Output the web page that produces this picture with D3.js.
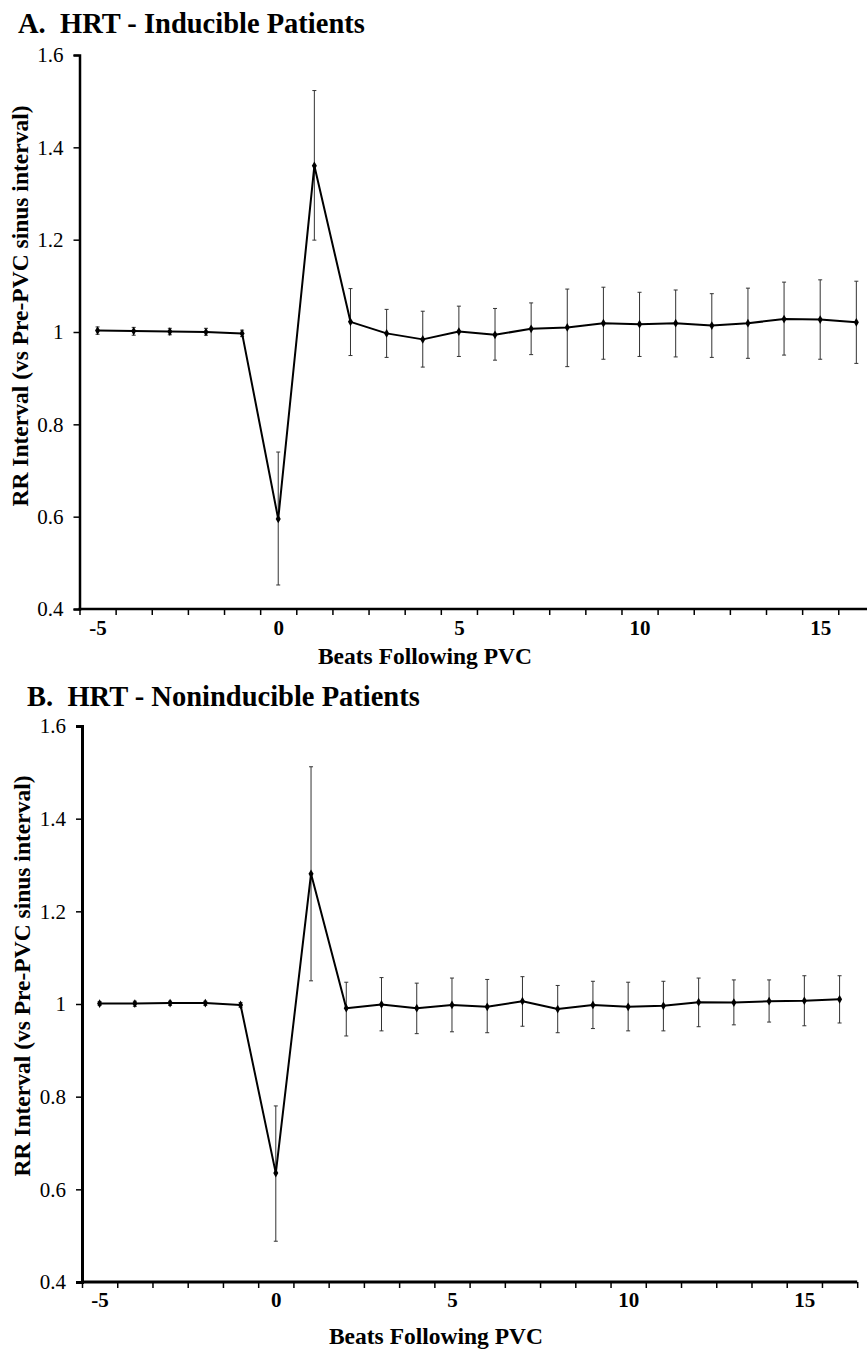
<!DOCTYPE html>
<html>
<head>
<meta charset="utf-8">
<script src="https://cdn.jsdelivr.net/npm/d3@7"></script>
<style>
  body { margin: 0; background: #fff; overflow: hidden; }
  svg { display: block; }
  svg text { font-family: "Liberation Serif", "Times New Roman", Times, serif !important; }
  .title { font-weight: bold; font-size: 28.5px; white-space: pre; }
  .axis-label { font-weight: bold; font-size: 23.5px; }
  .y-axis text { font-size: 21px !important; fill: #000; }
  .x-labels text { font-size: 21px !important; font-weight: bold; fill: #000; }
</style>
</head>
<body>
<div id="chart"></div>
<script>
// beats relative to the PVC
const beats = [-5, -4, -3, -2, -1, 0, 1, 2, 3, 4, 5, 6, 7, 8, 9, 10, 11, 12, 13, 14, 15, 16]
const yTicks = [0.4, 0.6, 0.8, 1.0, 1.2, 1.4, 1.6]
const xLabelTicks = [-5, 0, 5, 10, 15]

// A. inducible patients
const inducibleMean = [1.003, 1.002, 1.001, 1.000, 0.997, 0.595, 1.360, 1.022, 0.997, 0.984, 1.001, 0.994, 1.007, 1.010, 1.019, 1.017, 1.019, 1.014, 1.019, 1.028, 1.027, 1.021]
const inducibleUpper = [1.011, 1.010, 1.008, 1.008, 1.004, 0.740, 1.523, 1.094, 1.049, 1.045, 1.056, 1.051, 1.063, 1.093, 1.097, 1.086, 1.091, 1.083, 1.095, 1.108, 1.113, 1.110]
const inducibleLower = [0.995, 0.993, 0.994, 0.993, 0.990, 0.452, 1.199, 0.949, 0.945, 0.924, 0.947, 0.939, 0.951, 0.925, 0.941, 0.947, 0.946, 0.945, 0.943, 0.950, 0.941, 0.932]

// B. noninducible patients
const noninducibleMean = [1.001, 1.001, 1.002, 1.002, 0.998, 0.635, 1.281, 0.991, 0.999, 0.991, 0.998, 0.994, 1.006, 0.989, 0.998, 0.994, 0.996, 1.004, 1.003, 1.006, 1.007, 1.010]
const noninducibleUpper = [1.005, 1.006, 1.006, 1.006, 1.003, 0.780, 1.512, 1.047, 1.057, 1.045, 1.056, 1.053, 1.059, 1.040, 1.049, 1.047, 1.049, 1.056, 1.052, 1.052, 1.061, 1.061]
const noninducibleLower = [0.997, 0.995, 0.997, 0.997, 0.993, 0.488, 1.050, 0.931, 0.942, 0.936, 0.940, 0.938, 0.952, 0.938, 0.947, 0.942, 0.942, 0.951, 0.955, 0.961, 0.953, 0.959]

const W = 867, H = 1349
const svg = d3.select('#chart').append('svg').attr('width', W).attr('height', H)

function panel(opts) {
  const { title, titleX, titleY, xRange, yRange, mean, upper, lower,
          axisW, labelPad, xTitleX, xTitleY, yTitleX, yTitleY } = opts
  const x = d3.scaleLinear().domain([-5.5, 16.5]).range(xRange)
  const y = d3.scaleLinear().domain([0.4, 1.6]).range(yRange)
  const g = svg.append('g')

  g.append('text').attr('class', 'title').attr('x', titleX).attr('y', titleY).text(title)

  // y axis
  const ya = g.append('g').attr('class', 'y-axis')
    .attr('transform', `translate(${xRange[0]},0)`)
    .call(d3.axisLeft(y).tickValues(yTicks).tickSize(6).tickPadding(10)
      .tickFormat(d => d === 1 ? '1' : d.toFixed(1)))
  ya.attr('font-family', null).attr('font-size', null)
  ya.select('.domain').attr('stroke-width', axisW).attr('stroke', '#000')
  ya.selectAll('.tick line').attr('stroke-width', 1.5)

  // x axis: ticks between beats, labels on beats
  const xa = g.append('g')
    .attr('transform', `translate(0,${yRange[0]})`)
    .call(d3.axisBottom(x).tickValues(d3.range(-5.5, 17, 1)).tickSize(6).tickFormat(''))
  xa.select('.domain').attr('stroke-width', axisW).attr('stroke', '#000')
    .attr('d', `M${xRange[0] - 1},0H${xRange[1]}`)
  xa.selectAll('.tick line').attr('stroke-width', 1.5)

  const xl = g.append('g').attr('class', 'x-labels')
    .attr('transform', `translate(0,${yRange[0]})`)
    .call(d3.axisBottom(x).tickValues(xLabelTicks).tickSize(0).tickPadding(labelPad)
      .tickFormat(d => String(d)))
  xl.attr('font-family', null).attr('font-size', null)
  xl.select('.domain').remove()

  g.append('text').attr('class', 'axis-label')
    .attr('x', xTitleX).attr('y', xTitleY).attr('text-anchor', 'middle')
    .text('Beats Following PVC')

  g.append('text').attr('class', 'axis-label')
    .attr('transform', `translate(${yTitleX}, ${yTitleY}) rotate(-90)`)
    .attr('text-anchor', 'middle')
    .text('RR Interval (vs Pre-PVC sinus interval)')

  // error bars
  const eb = g.append('g').attr('stroke', '#333').attr('stroke-width', 1)
  beats.forEach((b, i) => {
    const cx = x(b)
    eb.append('line').attr('x1', cx).attr('x2', cx).attr('y1', y(upper[i])).attr('y2', y(lower[i]))
    eb.append('line').attr('x1', cx - 2).attr('x2', cx + 2).attr('y1', y(upper[i])).attr('y2', y(upper[i]))
    eb.append('line').attr('x1', cx - 2).attr('x2', cx + 2).attr('y1', y(lower[i])).attr('y2', y(lower[i]))
  })

  // mean line
  g.append('path')
    .datum(beats.map((b, i) => [b, mean[i]]))
    .attr('fill', 'none').attr('stroke', '#000').attr('stroke-width', 2)
    .attr('stroke-linejoin', 'round')
    .attr('d', d3.line().x(d => x(d[0])).y(d => y(d[1])))

  g.selectAll('.pt').data(beats).join('path')
    .attr('class', 'pt')
    .attr('transform', (b, i) => `translate(${x(b)},${y(mean[i])})`)
    .attr('d', d3.symbol(d3.symbolDiamond, 22))
    .attr('fill', '#000')
}

panel({
  title: 'A.  HRT - Inducible Patients', titleX: 18, titleY: 33,
  xRange: [79.5, 874.4], yRange: [609, 55],
  mean: inducibleMean, upper: inducibleUpper, lower: inducibleLower,
  axisW: 2.5, labelPad: 11,
  xTitleX: 425, xTitleY: 664, yTitleX: 28, yTitleY: 306
})

panel({
  title: 'B.  HRT - Noninducible Patients', titleX: 27, titleY: 706,
  xRange: [82, 857.2], yRange: [1282, 726],
  mean: noninducibleMean, upper: noninducibleUpper, lower: noninducibleLower,
  axisW: 3, labelPad: 10,
  xTitleX: 436, xTitleY: 1344, yTitleX: 30, yTitleY: 976
})
</script>
</body>
</html>
